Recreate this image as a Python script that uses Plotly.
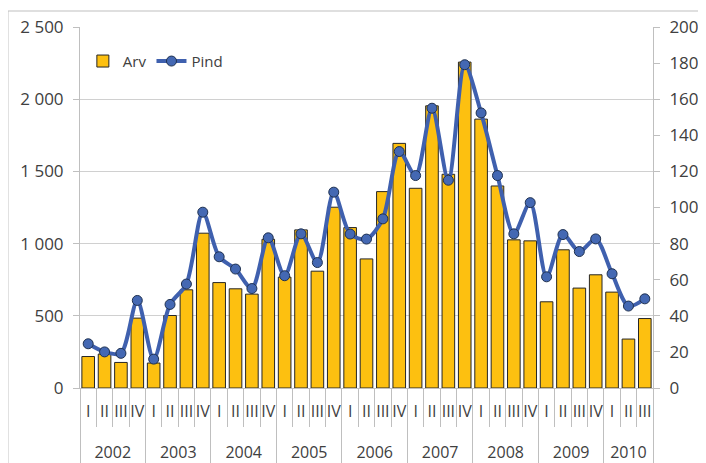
import plotly.graph_objects as go

years = ["2002"] * 4 + ["2003"] * 4 + ["2004"] * 4 + ["2005"] * 4 + ["2006"] * 4 + \
        ["2007"] * 4 + ["2008"] * 4 + ["2009"] * 4 + ["2010"] * 3
quarters = (["I", "II", "III", "IV"] * 9)[:35]

arv = [218, 235, 177, 484, 173, 502, 680, 1072, 730, 687, 650, 1030, 768, 1095, 809, 1252,
       1111, 894, 1360, 1694, 1383, 1954, 1480, 2257, 1862, 1399, 1026, 1019, 597, 957, 692,
       784, 664, 339, 481]
pind = [24.5, 20, 19.2, 48.5, 16, 46.3, 57.6, 97.4, 72.7, 65.9, 55.1, 83.2, 62.2, 85.4, 69.5,
        108.5, 85.3, 82.5, 93.7, 131, 117.7, 155, 115.1, 179.1, 152.4, 117.7, 85.4, 102.7,
        61.6, 85, 75.6, 82.6, 63.3, 45.4, 49.4]

# axis label text: years pushed one line lower
year_labels = [f"<br><span style='font-size:16px'>{y}</span>" for y in years]
quarter_labels = [f"<span style='font-size:16px'>{q}</span>" for q in quarters]

FONT = "Open Sans"
fig = go.Figure()
fig.add_trace(go.Bar(
    x=[year_labels, quarter_labels], y=arv, name="Arv",
    marker=dict(color="#FDC010", line=dict(color="#262626", width=1)),
))
fig.add_trace(go.Scatter(
    x=[year_labels, quarter_labels], y=pind, name="Pind", yaxis="y2",
    mode="lines+markers",
    line=dict(color="#3F60AE", width=4, shape="spline", smoothing=0.8),
    marker=dict(size=10, color="#4468B3", line=dict(color="#1F3150", width=1)),
))

# page body has an 8px margin, so the figure is drawn 8px smaller and offset
fig.update_layout(
    width=698, height=455,
    margin=dict(l=72, r=53, t=19, b=75, autoexpand=False),
    paper_bgcolor="white", plot_bgcolor="white",
    separators=", ",
    bargap=0.23,
    font=dict(family=FONT, size=16, color="#404040"),
    showlegend=True,
    legend=dict(orientation="h", x=0.005, y=0.905, xanchor="left", yanchor="middle",
                font=dict(size=15, color="#404040"), bgcolor="rgba(0,0,0,0)",
                itemwidth=30, tracegroupgap=0),
    xaxis=dict(
        type="multicategory",
        range=[-0.5, 34.5], automargin=False,
        tickmode="linear", tick0=0, dtick=1,
        showline=True, linecolor="#BFBFBF", linewidth=1,
        ticks="outside", tickson="boundaries", ticklen=38, tickcolor="#BFBFBF",
        showdividers=True, dividercolor="#BFBFBF", dividerwidth=1,
        tickangle=0, ticklabelstandoff=6,
        tickfont=dict(size=18, color="#404040"),
        showgrid=False,
    ),
    yaxis=dict(
        range=[0, 2500], dtick=500, tickformat=",d", automargin=False,
        showgrid=True, gridcolor="#D0D0D0", gridwidth=1,
        showline=True, linecolor="#BFBFBF", linewidth=1,
        ticks="outside", ticklen=6, tickcolor="#BFBFBF",
        ticklabelstandoff=6,
        tickfont=dict(size=17, color="#404040"),
        zeroline=False,
    ),
    yaxis2=dict(
        range=[0, 200], dtick=20, overlaying="y", side="right", automargin=False,
        showgrid=False,
        showline=True, linecolor="#BFBFBF", linewidth=1,
        ticks="outside", ticklen=6, tickcolor="#BFBFBF",
        ticklabelstandoff=6,
        tickfont=dict(size=17, color="#404040"),
        zeroline=False,
    ),
    shapes=[dict(type="rect", xref="paper", yref="paper",
                 x0=-0.1257, x1=1.12, y0=-0.25, y1=1.0443,
                 line=dict(color="#BFBFBF", width=1), fillcolor="rgba(0,0,0,0)",
                 layer="below")],
)

fig.write_html("out.html")
